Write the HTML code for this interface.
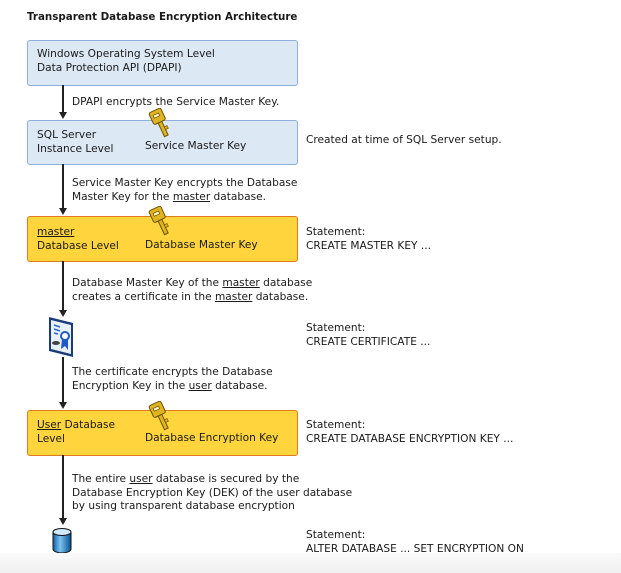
<!DOCTYPE html>
<html><head><meta charset="utf-8"><style>
body{margin:0;width:621px;height:573px;background:#fff;position:relative;overflow:hidden;font-family:"DejaVu Sans","Liberation Sans",sans-serif;font-size:10.6px;color:#1a1a1a}
.t{position:absolute;white-space:nowrap;line-height:13.5px}
.box{position:absolute;left:27px;width:269px;border-radius:3px}
.blue{background:#dde8f5;border:1px solid #8eaedb}
.org{background:#ffd43c;border:1px solid #e07a1a}
.ln{position:absolute;left:62px;width:2px;background:#222}
.ar{position:absolute;left:59px;width:0;height:0;border-left:4px solid transparent;border-right:4px solid transparent;border-top:7px solid #222}
u{text-decoration:underline}
svg{position:absolute}
</style></head><body>
<div class="t" style="left:27px;top:11px;font-weight:bold;font-size:10.3px">Transparent Database Encryption Architecture</div>

<div class="box blue" style="top:40px;height:44px"></div>
<div class="t" style="left:37px;top:48px">Windows Operating System Level<br>Data Protection API (DPAPI)</div>

<div class="ln" style="top:85px;height:28px"></div><div class="ar" style="top:112px"></div>
<div class="t" style="left:72px;top:96px">DPAPI encrypts the Service Master Key.</div>

<div class="box blue" style="top:120px;height:43px"></div>
<div class="t" style="left:37px;top:129px">SQL Server<br>Instance Level</div>
<div class="t" style="left:145px;top:140px">Service Master Key</div>
<div class="t" style="left:306px;top:134px">Created at time of SQL Server setup.</div>

<div class="ln" style="top:164px;height:44px"></div><div class="ar" style="top:208px"></div>
<div class="t" style="left:72px;top:177px">Service Master Key encrypts the Database<br>Master Key for the <u>master</u> database.</div>

<div class="box org" style="top:216px;height:44px"></div>
<div class="t" style="left:37px;top:226px"><u>master</u><br>Database Level</div>
<div class="t" style="left:145px;top:239px">Database Master Key</div>
<div class="t" style="left:306px;top:226px">Statement:<br>CREATE MASTER KEY ...</div>

<div class="ln" style="top:261px;height:51px"></div><div class="ar" style="top:310px"></div>
<div class="t" style="left:72px;top:277px">Database Master Key of the <u>master</u> database<br>creates a certificate in the <u>master</u> database.</div>

<svg style="left:46px;top:316px" width="30" height="42" viewBox="0 0 30 42">
<polygon points="3,1 27,7 27,41 3,35" fill="#1a3a7a"/>
<polygon points="5,4 25,9 25,38 5,33" fill="#e8f0fb"/>
<line x1="8" y1="9" x2="14" y2="11" stroke="#2a6acb" stroke-width="1.5"/>
<line x1="8" y1="13" x2="14" y2="15" stroke="#2a6acb" stroke-width="1.5"/>
<line x1="8" y1="17" x2="12" y2="18" stroke="#2a6acb" stroke-width="1.5"/>
<circle cx="19" cy="20" r="4" fill="#fff" stroke="#1f5bc4" stroke-width="2"/>
<polygon points="16,23 15,33 19,30 22,34 22,24" fill="#1f5bc4"/>
<ellipse cx="10" cy="27" rx="4" ry="2" fill="#444"/>
</svg>
<div class="ln" style="top:357px;height:45px"></div><div class="ar" style="top:402px"></div>
<div class="t" style="left:306px;top:322px">Statement:<br>CREATE CERTIFICATE ...</div>
<div class="t" style="left:72px;top:366px">The certificate encrypts the Database<br>Encryption Key in the <u>user</u> database.</div>

<div class="box org" style="top:410px;height:44px"></div>
<div class="t" style="left:37px;top:419px"><u>User</u> Database<br>Level</div>
<div class="t" style="left:145px;top:432px">Database Encryption Key</div>
<div class="t" style="left:306px;top:419px">Statement:<br>CREATE DATABASE ENCRYPTION KEY ...</div>

<div class="ln" style="top:455px;height:63px"></div><div class="ar" style="top:518px"></div>
<div class="t" style="left:72px;top:473px">The entire <u>user</u> database is secured by the<br>Database Encryption Key (DEK) of the user database<br>by using transparent database encryption</div>

<svg style="left:51px;top:527px" width="24" height="27" viewBox="0 0 24 27">
<defs><linearGradient id="g" x1="0" x2="1"><stop offset="0" stop-color="#0d5fa8"/><stop offset=".4" stop-color="#7cc3f0"/><stop offset="1" stop-color="#0a5090"/></linearGradient></defs>
<path d="M2,5 L2,22 A9,4 0 0 0 20,22 L20,5" fill="url(#g)" stroke="#111" stroke-width="1"/>
<ellipse cx="11" cy="5" rx="9" ry="3.5" fill="#cfeaff" stroke="#111" stroke-width="1"/>
</svg>
<div class="t" style="left:306px;top:529px">Statement:<br>ALTER DATABASE ... SET ENCRYPTION ON</div>

<svg style="left:148px;top:108px" width="26" height="32" viewBox="0 0 26 32">
<g transform="rotate(-25 9 9)"><rect x="3" y="2" width="13" height="13" rx="2" fill="#e0b420" stroke="#6a5208"/><rect x="6" y="6" width="6" height="3" fill="#fff7c0" stroke="#6a5208" stroke-width=".7"/><rect x="7.5" y="15" width="4" height="15" fill="#e0b420" stroke="#6a5208"/><rect x="11.5" y="21" width="3" height="3" fill="#e0b420" stroke="#6a5208" stroke-width=".7"/></g>
</svg>
<svg style="left:148px;top:206px" width="26" height="32" viewBox="0 0 26 32">
<g transform="rotate(-25 9 9)"><rect x="3" y="2" width="13" height="13" rx="2" fill="#e0b420" stroke="#6a5208"/><rect x="6" y="6" width="6" height="3" fill="#fff7c0" stroke="#6a5208" stroke-width=".7"/><rect x="7.5" y="15" width="4" height="15" fill="#e0b420" stroke="#6a5208"/><rect x="11.5" y="21" width="3" height="3" fill="#e0b420" stroke="#6a5208" stroke-width=".7"/></g>
</svg>
<svg style="left:148px;top:401px" width="26" height="32" viewBox="0 0 26 32">
<g transform="rotate(-25 9 9)"><rect x="3" y="2" width="13" height="13" rx="2" fill="#e0b420" stroke="#6a5208"/><rect x="6" y="6" width="6" height="3" fill="#fff7c0" stroke="#6a5208" stroke-width=".7"/><rect x="7.5" y="15" width="4" height="15" fill="#e0b420" stroke="#6a5208"/><rect x="11.5" y="21" width="3" height="3" fill="#e0b420" stroke="#6a5208" stroke-width=".7"/></g>
</svg>

<div style="position:absolute;left:0;top:553px;width:621px;height:20px;background:linear-gradient(#fafafa,#f0f0f0)"></div>
</body></html>
